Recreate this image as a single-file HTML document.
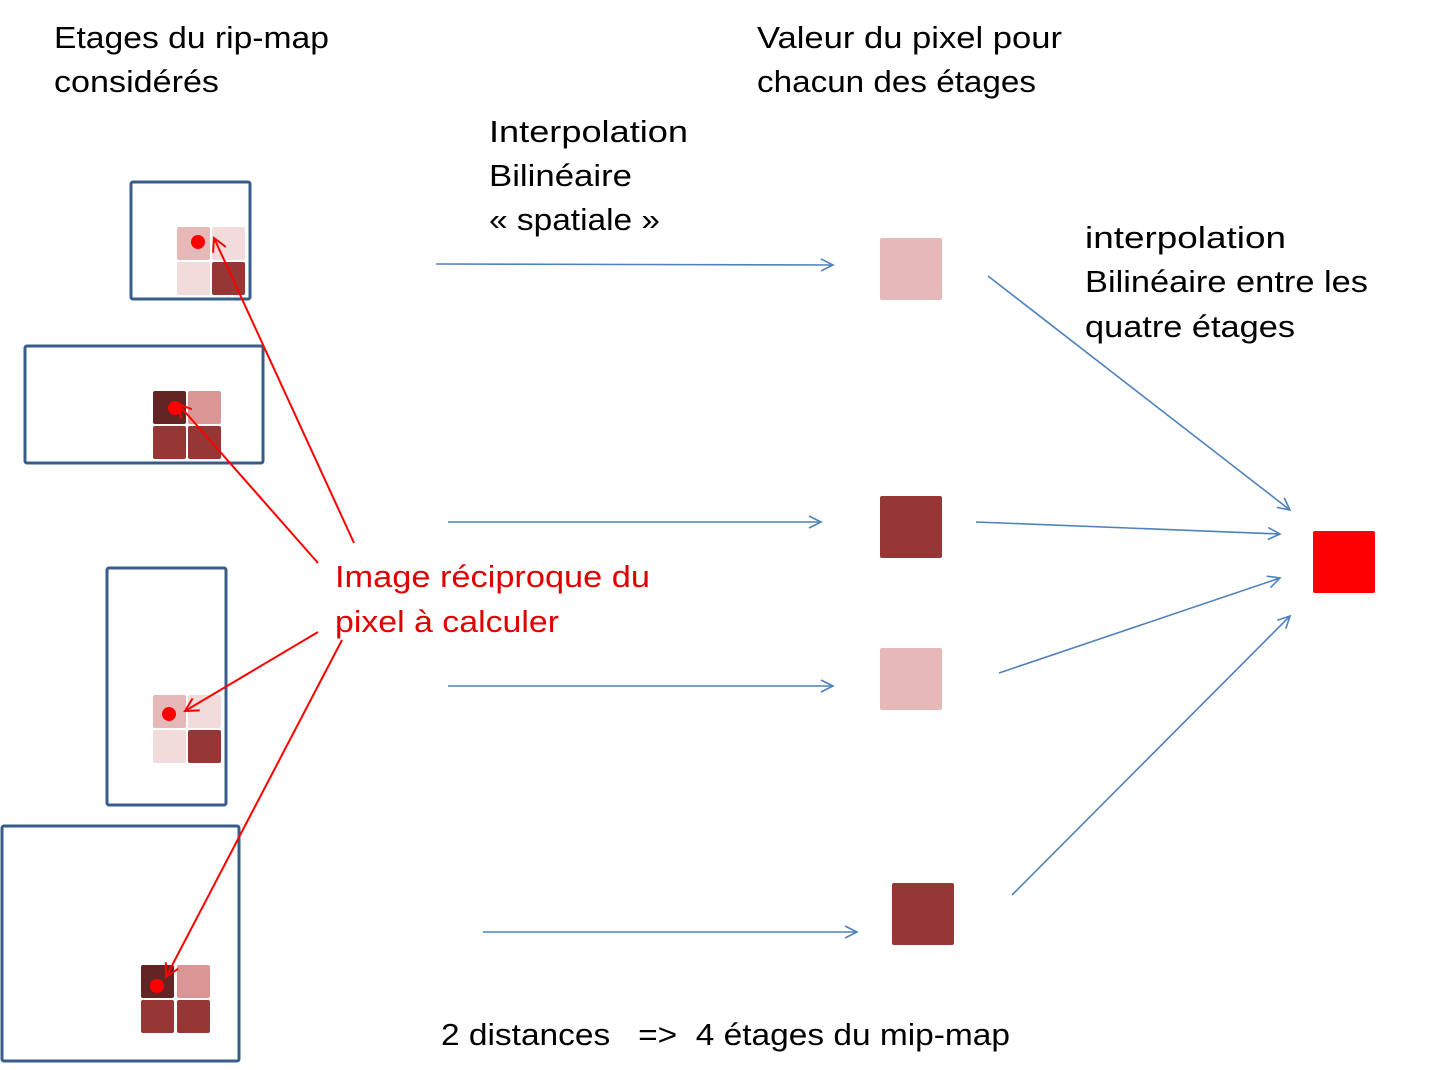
<!DOCTYPE html>
<html><head><meta charset="utf-8"><style>html,body{margin:0;padding:0;background:#fff}</style></head><body>
<svg width="1434" height="1065" viewBox="0 0 1434 1065" xmlns="http://www.w3.org/2000/svg" font-family="Liberation Sans, sans-serif" font-size="31">
<defs>
<marker id="bl" markerWidth="16" markerHeight="16" refX="14" refY="8" orient="auto" markerUnits="userSpaceOnUse"><path d="M2,2 L14,8 L2,14" fill="none" stroke="#4f81bd" stroke-width="1.6"/></marker>
<marker id="rd" markerWidth="18" markerHeight="18" refX="15" refY="9" orient="auto" markerUnits="userSpaceOnUse"><path d="M2,2 L15,9 L2,16" fill="none" stroke="#f00" stroke-width="2"/></marker>
</defs>
<g fill="none" stroke="#385d8a" stroke-width="3">
<rect x="131" y="182" width="119" height="117" rx="2"/>
<rect x="25" y="346" width="238" height="117" rx="2"/>
<rect x="107" y="568" width="119" height="237" rx="2"/>
<rect x="2" y="826" width="237" height="235" rx="2"/>
</g>
<g>
<rect x="177" y="227" width="33" height="33" rx="2" fill="#e6b9b8"/><rect x="212" y="227" width="33" height="33" rx="2" fill="#f2dcdb"/>
<rect x="177" y="262" width="33" height="33" rx="2" fill="#f2dcdb"/><rect x="212" y="262" width="33" height="33" rx="2" fill="#953735"/>
<rect x="153" y="391" width="33" height="33" rx="2" fill="#632523"/><rect x="188" y="391" width="33" height="33" rx="2" fill="#d99694"/>
<rect x="153" y="426" width="33" height="33" rx="2" fill="#953735"/><rect x="188" y="426" width="33" height="33" rx="2" fill="#953735"/>
<rect x="153" y="695" width="33" height="33" rx="2" fill="#e6b9b8"/><rect x="188" y="695" width="33" height="33" rx="2" fill="#f2dcdb"/>
<rect x="153" y="730" width="33" height="33" rx="2" fill="#f2dcdb"/><rect x="188" y="730" width="33" height="33" rx="2" fill="#953735"/>
<rect x="141" y="965" width="33" height="33" rx="2" fill="#632523"/><rect x="177" y="965" width="33" height="33" rx="2" fill="#d99694"/>
<rect x="141" y="1000" width="33" height="33" rx="2" fill="#953735"/><rect x="177" y="1000" width="33" height="33" rx="2" fill="#953735"/>
</g>
<g fill="#f00">
<circle cx="198" cy="242" r="7"/><circle cx="175" cy="408" r="7"/><circle cx="169" cy="714" r="7"/><circle cx="157" cy="986" r="7"/>
</g>
<g stroke="#f00" stroke-width="2" fill="none">
<line x1="354" y1="543" x2="214" y2="238" marker-end="url(#rd)"/>
<line x1="318" y1="563" x2="178" y2="404" marker-end="url(#rd)"/>
<line x1="318" y1="632" x2="185" y2="711" marker-end="url(#rd)"/>
<line x1="342" y1="640" x2="166" y2="977" marker-end="url(#rd)"/>
</g>
<g stroke="#4f81bd" stroke-width="1.6" fill="none">
<line x1="436" y1="264" x2="833" y2="265" marker-end="url(#bl)"/>
<line x1="448" y1="522" x2="821" y2="522" marker-end="url(#bl)"/>
<line x1="448" y1="686" x2="833" y2="686" marker-end="url(#bl)"/>
<line x1="483" y1="932" x2="857" y2="932" marker-end="url(#bl)"/>
<line x1="988" y1="276" x2="1290" y2="510" marker-end="url(#bl)"/>
<line x1="976" y1="522" x2="1280" y2="534" marker-end="url(#bl)"/>
<line x1="999" y1="673" x2="1280" y2="578" marker-end="url(#bl)"/>
<line x1="1012" y1="895" x2="1290" y2="616" marker-end="url(#bl)"/>
</g>
<rect x="880" y="238" width="62" height="62" rx="2" fill="#e6b9b8"/>
<rect x="880" y="496" width="62" height="62" rx="2" fill="#953735"/>
<rect x="880" y="648" width="62" height="62" rx="2" fill="#e6b9b8"/>
<rect x="892" y="883" width="62" height="62" rx="2" fill="#953735"/>
<rect x="1313" y="531" width="62" height="62" rx="2" fill="#f00"/>
<g fill="#000">
<text x="54" y="48" textLength="275" lengthAdjust="spacingAndGlyphs">Etages du rip-map</text>
<text x="54" y="92" textLength="165" lengthAdjust="spacingAndGlyphs">considérés</text>
<text x="757" y="48" textLength="305" lengthAdjust="spacingAndGlyphs">Valeur du pixel pour</text>
<text x="757" y="92" textLength="279" lengthAdjust="spacingAndGlyphs">chacun des étages</text>
<text x="489" y="142" textLength="199" lengthAdjust="spacingAndGlyphs">Interpolation</text>
<text x="489" y="186" textLength="143" lengthAdjust="spacingAndGlyphs">Bilinéaire</text>
<text x="489" y="230" textLength="171" lengthAdjust="spacingAndGlyphs">« spatiale »</text>
<text x="1085" y="248" textLength="201" lengthAdjust="spacingAndGlyphs">interpolation</text>
<text x="1085" y="292" textLength="283" lengthAdjust="spacingAndGlyphs">Bilinéaire entre les</text>
<text x="1085" y="337" textLength="210" lengthAdjust="spacingAndGlyphs">quatre étages</text>
<text x="441" y="1045" textLength="569" lengthAdjust="spacingAndGlyphs" xml:space="preserve">2 distances   =&gt;  4 étages du mip-map</text>
</g>
<g fill="#e00000">
<text x="335" y="587" textLength="315" lengthAdjust="spacingAndGlyphs">Image réciproque du</text>
<text x="335" y="632" textLength="224" lengthAdjust="spacingAndGlyphs">pixel à calculer</text>
</g>
</svg>
</body></html>
